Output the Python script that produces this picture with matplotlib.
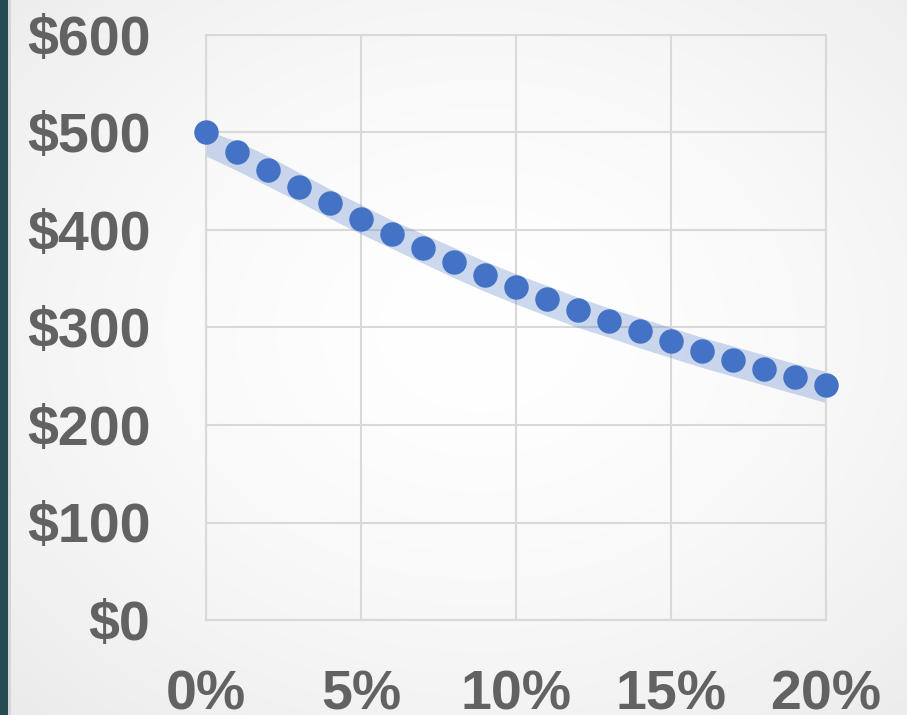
import numpy as np
import matplotlib
matplotlib.use("Agg")
import matplotlib.pyplot as plt
from matplotlib.patches import Rectangle

# Discount rate (%) and present value ($)
rates = [0, 1, 2, 3, 4, 5, 6, 7, 8, 9, 10, 11, 12, 13, 14, 15, 16, 17, 18, 19, 20]
present_value = [500.0, 480.5, 461.9, 444.2, 427.4, 411.4, 396.0, 381.4, 367.5, 354.2,
                 341.5, 329.4, 317.8, 306.7, 296.0, 285.9, 276.1, 266.8, 257.9, 249.3, 241.1]
band_upper = [502, 491, 476, 459, 442, 426, 410, 396, 382, 368,
              355, 343, 331, 320, 310, 300, 290, 281, 272, 263, 255]
band_lower = [476, 461, 445, 429, 412, 396, 381, 366, 351, 337,
              324, 312, 300, 290, 279, 269, 259, 250, 241, 232, 223]
x_ticks = [0, 5, 10, 15, 20]
x_labels = ["0%", "5%", "10%", "15%", "20%"]
y_ticks = [0, 100, 200, 300, 400, 500, 600]
y_labels = ["$0", "$100", "$200", "$300", "$400", "$500", "$600"]

plt.rcParams['font.family'] = ['Liberation Sans', 'DejaVu Sans']

W, H = 907, 715
fig = plt.figure(figsize=(W / 100, H / 100), dpi=100)

# Soft radial background
bg = fig.add_axes([0, 0, 1, 1], zorder=-10)
yy, xx = np.mgrid[0:H, 0:W]
r = np.sqrt(((xx - 480) / W) ** 2 + ((yy - 330) / H) ** 2)
shade = 1.0 - 0.08 * np.clip(r / 0.75, 0, 1) ** 1.6
bg.imshow(np.dstack([shade] * 3), extent=[0, W, H, 0], aspect='auto')
bg.set_xlim(0, W)
bg.set_ylim(H, 0)
bg.axis('off')
bg.add_patch(Rectangle((0, 0), 8, H, color='#264b52', lw=0))
bg.add_patch(Rectangle((8, 0), 2.5, H, color='#d6d6d6', lw=0))

ax = fig.add_axes([206 / W, 1 - 620 / H, (826 - 206) / W, (620 - 35) / H])
ax.patch.set_alpha(0)

ax.fill_between(rates, band_lower, band_upper, color='#4472c4', alpha=0.27, lw=0, zorder=2)
ax.scatter(rates, present_value, s=310, color='#4472c4', zorder=3, clip_on=False, lw=0)

ax.set_xlim(0, 20)
ax.set_ylim(0, 600)
ax.set_xticks(x_ticks)
ax.set_xticklabels(x_labels)
ax.set_yticks(y_ticks)
ax.set_yticklabels(y_labels)
ax.grid(True, color='#d9d9d9', lw=1.5, zorder=0)
ax.set_axisbelow(True)
for s in ax.spines.values():
    s.set_color('#d9d9d9')
    s.set_linewidth(1.5)
ax.tick_params(length=0, labelsize=40, labelcolor='#626262')
ax.tick_params(axis='y', pad=40)
ax.tick_params(axis='x', pad=36)
for lab in ax.get_xticklabels() + ax.get_yticklabels():
    lab.set_fontweight('bold')

fig.savefig('out.png', dpi=100)
